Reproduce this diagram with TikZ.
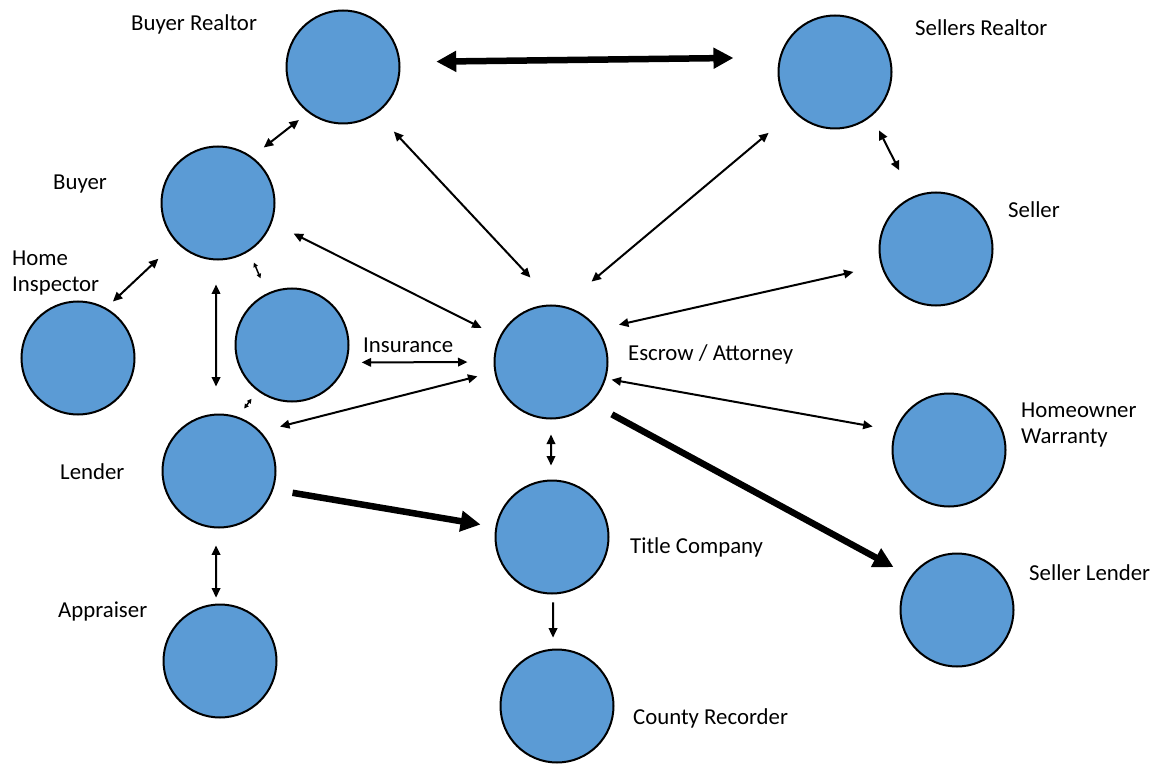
\documentclass[tikz,border=0pt]{standalone}
\usepackage{fontspec}
\setmainfont{Carlito}
\usetikzlibrary{arrows.meta}

\definecolor{partyblue}{RGB}{91,155,213}

\tikzset{
	party/.style={circle, draw=black, line width=2pt, fill=partyblue, minimum size=113pt, inner sep=0pt, outer sep=0pt},
	link/.style={line width=2pt, {Triangle[length=9.5pt,width=8.5pt]}-{Triangle[length=9.5pt,width=8.5pt]}},
	linkone/.style={line width=2pt, -{Triangle[length=9.5pt,width=8.5pt]}},
	tinylink/.style={line width=1.5pt, {Triangle[length=4.5pt,width=4.5pt]}-{Triangle[length=4.5pt,width=4.5pt]}},
	bigone/.style={line width=6.5pt, -{Triangle[length=20pt,width=20pt]}},
	bigtwo/.style={line width=6.5pt, {Triangle[length=20pt,width=20pt]}-{Triangle[length=20pt,width=20pt]}},
	lbl/.style={inner sep=0pt, font=\fontsize{22.8}{26}\selectfont, align=left}
}

\begin{document}
\begin{tikzpicture}[x=1pt, y=-1pt]

	\useasboundingbox (0,0) rectangle (1156,767);

	% ---- parties

	\node[party] (br)        at (343,67)  {};
	\node[party] (sr)        at (835,72)  {};
	\node[party] (buyer)     at (218,203) {};
	\node[party] (seller)    at (936,249) {};
	\node[party] (inspector) at (78,358)  {};
	\node[party] (insurance) at (292,345) {};
	\node[party] (escrow)    at (551,362) {};
	\node[party] (lender)    at (219,471) {};
	\node[party] (warranty)  at (949,450) {};
	\node[party] (title)     at (552,537) {};
	\node[party] (slender)   at (957,610) {};
	\node[party] (appraiser) at (220,661) {};
	\node[party] (county)    at (557,706) {};

	% ---- labels

	\node[lbl, anchor=base west] (brlbl)  at (131,31)  {Buyer Realtor};
	\node[lbl, anchor=base west] (srlbl)  at (915,36)  {Sellers Realtor};
	\node[lbl, anchor=base west] (bylbl)  at (53,190)  {Buyer};
	\node[lbl, anchor=base west] (sllbl)  at (1008,218) {Seller};
	\node[lbl, anchor=north west] (hilbl) at (12,251)  {Home\\Inspector};
	\node[lbl, anchor=base west] (inlbl)  at (363,352) {Insurance};
	\node[lbl, anchor=base west] (eslbl)  at (628,360) {Escrow / Attorney};
	\node[lbl, anchor=base west] (lnlbl)  at (60,479)  {Lender};
	\node[lbl, anchor=north west] (hwlbl) at (1021,403) {Homeowner\\Warranty};
	\node[lbl, anchor=base west] (tclbl)  at (630,553) {Title Company};
	\node[lbl, anchor=base west] (sdlbl)  at (1029,580) {Seller Lender};
	\node[lbl, anchor=base west] (aplbl)  at (58,617)  {Appraiser};
	\node[lbl, anchor=base west] (crlbl)  at (633,724) {County Recorder};

	% ---- realtors

	\draw[bigtwo, shorten <=37pt, shorten >=47pt] (br.5.6) -- (sr.165.3);
	\draw[link, shorten <=12.8pt, shorten >=15.9pt] (br.-127.9) -- (buyer.54);
	\draw[link, shorten <=25.8pt, shorten >=38.7pt] (br.-54.1) -- (escrow.84.5);
	\draw[link, shorten <=33.6pt, shorten >=38.8pt] (sr.-136.3) -- (escrow.79.7);
	\draw[link, shorten <=16.9pt, shorten >=30.3pt] (sr.-50.5) -- (seller.114);

	% ---- buyer side

	\draw[link, shorten <=25.2pt, shorten >=20.8pt] (buyer.-20.2) -- (escrow.154.3);
	\draw[link, shorten <=25.1pt, shorten >=10.3pt] (buyer.-137) -- (inspector.61.2);
	\draw[link, shorten <=25pt, shorten >=28pt] (buyer.-92) -- (lender.93);
	\draw[tinylink, shorten <=13.2pt, shorten >=17.3pt] (buyer.-57) -- (insurance.116.7);
	\draw[link, shorten <=15.9pt, shorten >=27pt] (insurance.-18.4) -- (escrow.180);
	\draw[tinylink, shorten <=10.8pt, shorten >=11.3pt] (insurance.-127.1) -- (lender.71.5);
	\draw[link, shorten <=21pt, shorten >=18.5pt] (lender.44.5) -- (escrow.190.6);
	\draw[link, shorten <=18pt, shorten >=7pt] (lender.-93) -- (appraiser.94);
	\draw[bigone, shorten <=20.4pt, shorten >=16pt] (lender.-19) -- (title.170.6);

	% ---- escrow side

	\draw[link, shorten <=29.2pt, shorten >=22.2pt] (seller.-163) -- (escrow.35.6);
	\draw[link, shorten <=6.6pt, shorten >=23.6pt] (escrow.-17.1) -- (warranty.160.7);
	\draw[link, shorten <=16pt, shorten >=15pt] (escrow.-90) -- (title.91);
	\draw[bigone, shorten <=24.6pt, shorten >=20.2pt] (escrow.-46.3) -- (slender.144.1);
	\draw[linkone, shorten <=9pt, shorten >=12pt] (title.-89) -- (county.94);

\end{tikzpicture}
\end{document}
